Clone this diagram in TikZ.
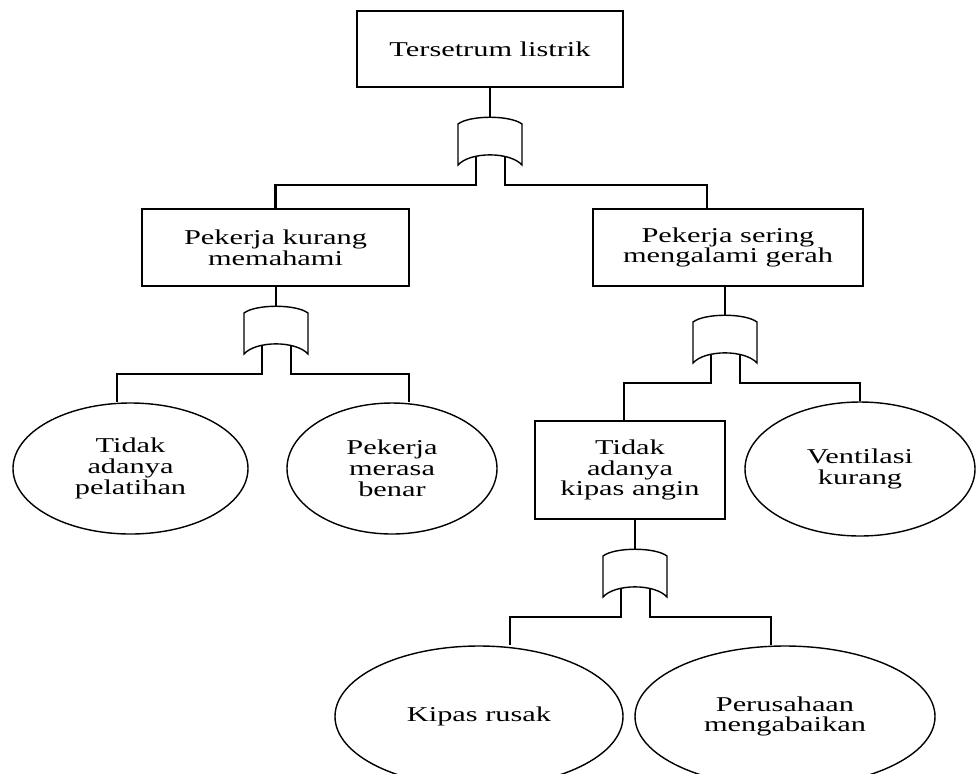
\documentclass[tikz,border=0pt]{standalone}
\usepackage{fontspec}
\setmainfont{Liberation Serif}[FakeStretch=1.44]
\usetikzlibrary{shapes,calc}
\tikzset{
    wire/.style = {line width=1.5pt},
    event/.style = {rectangle, draw, line width=1.1pt, align=center, inner sep=2pt},
    basic/.style = {ellipse, draw, line width=0.8pt, align=center, inner sep=0pt},
    orgate/.pic = {
        \draw[line width=0.8pt, fill=white] (-0.64,-0.14) .. controls (-0.4,0.04) and (0.4,0.04) .. (0.64,-0.14)
            -- (0.64,-0.96) .. controls (0.4,-0.69) and (-0.4,-0.69) .. (-0.64,-0.96) -- cycle;
        \coordinate (-out) at (0,0);
        \coordinate (-in1) at (-0.28,-0.79);
        \coordinate (-in2) at (0.3,-0.79);
    }
}

\begin{document}
\begin{tikzpicture}[font=\fontsize{12}{11.8}\selectfont]
    \useasboundingbox (0,0) rectangle (19.54,-15.46);

    % events
    \node[event, minimum width=5.32cm, minimum height=1.52cm] (top) at (9.8,-0.98) {Tersetrum listrik};
    \node[event, minimum width=5.34cm, minimum height=1.54cm] (paham) at (5.51,-4.95) {Pekerja kurang\\memahami};
    \node[event, minimum width=5.4cm, minimum height=1.54cm] (gerah) at (14.56,-4.95) {Pekerja sering\\mengalami gerah};
    \node[event, minimum width=3.8cm, minimum height=1.96cm] (kipas) at (12.6,-9.4) {Tidak\\adanya\\kipas angin};

    % basic events
    \node[basic, minimum width=4.7cm, minimum height=2.62cm] (latih) at (2.61,-9.37) {Tidak\\adanya\\pelatihan};
    \node[basic, minimum width=4.2cm, minimum height=2.62cm] (benar) at (7.84,-9.37) {Pekerja\\merasa\\benar};
    \node[basic, minimum width=4.6cm, minimum height=2.68cm] (vent) at (17.2,-9.38) {Ventilasi\\kurang};
    \node[basic, minimum width=5.76cm, minimum height=2.82cm] (rusak) at (9.58,-14.33) {Kipas rusak};
    \node[basic, minimum width=6.0cm, minimum height=2.82cm] (abai) at (15.7,-14.33) {Perusahaan\\mengabaikan};

    % OR gates
    \pic (g1) at (9.8,-2.34) {orgate};
    \pic (g2) at (5.52,-6.12) {orgate};
    \pic (g3) at (14.5,-6.3) {orgate};
    \pic (g4) at (12.7,-10.98) {orgate};

    % connectors
    \draw[wire] (top.south -| g1-out) -- (g1-out);
    \draw[wire] (g1-in1) -- ++(0,-0.57) -| (paham);
    \draw[wire] (g1-in2) -- ++(0,-0.57) -| ([xshift=-0.42cm]gerah.north);

    \draw[wire] (paham.south -| g2-out) -- (g2-out);
    \draw[wire] (g2-in1) -- ++(0,-0.57) -| ([xshift=-0.27cm]latih.north);
    \draw[wire] (g2-in2) -- ++(0,-0.57) -| ([xshift=0.34cm]benar.north);

    \draw[wire] (gerah.south -| g3-out) -- (g3-out);
    \draw[wire] (g3-in1) -- ++(0,-0.57) -| ([xshift=-0.12cm]kipas.north);
    \draw[wire] (g3-in2) -- ++(0,-0.57) -| (vent);

    \draw[wire] (kipas.south -| g4-out) -- (g4-out);
    \draw[wire] (g4-in1) -- ++(0,-0.57) -| ([xshift=0.62cm]rusak.north);
    \draw[wire] (g4-in2) -- ++(0,-0.57) -| ([xshift=-0.28cm]abai.north);

\end{tikzpicture}
\end{document}
